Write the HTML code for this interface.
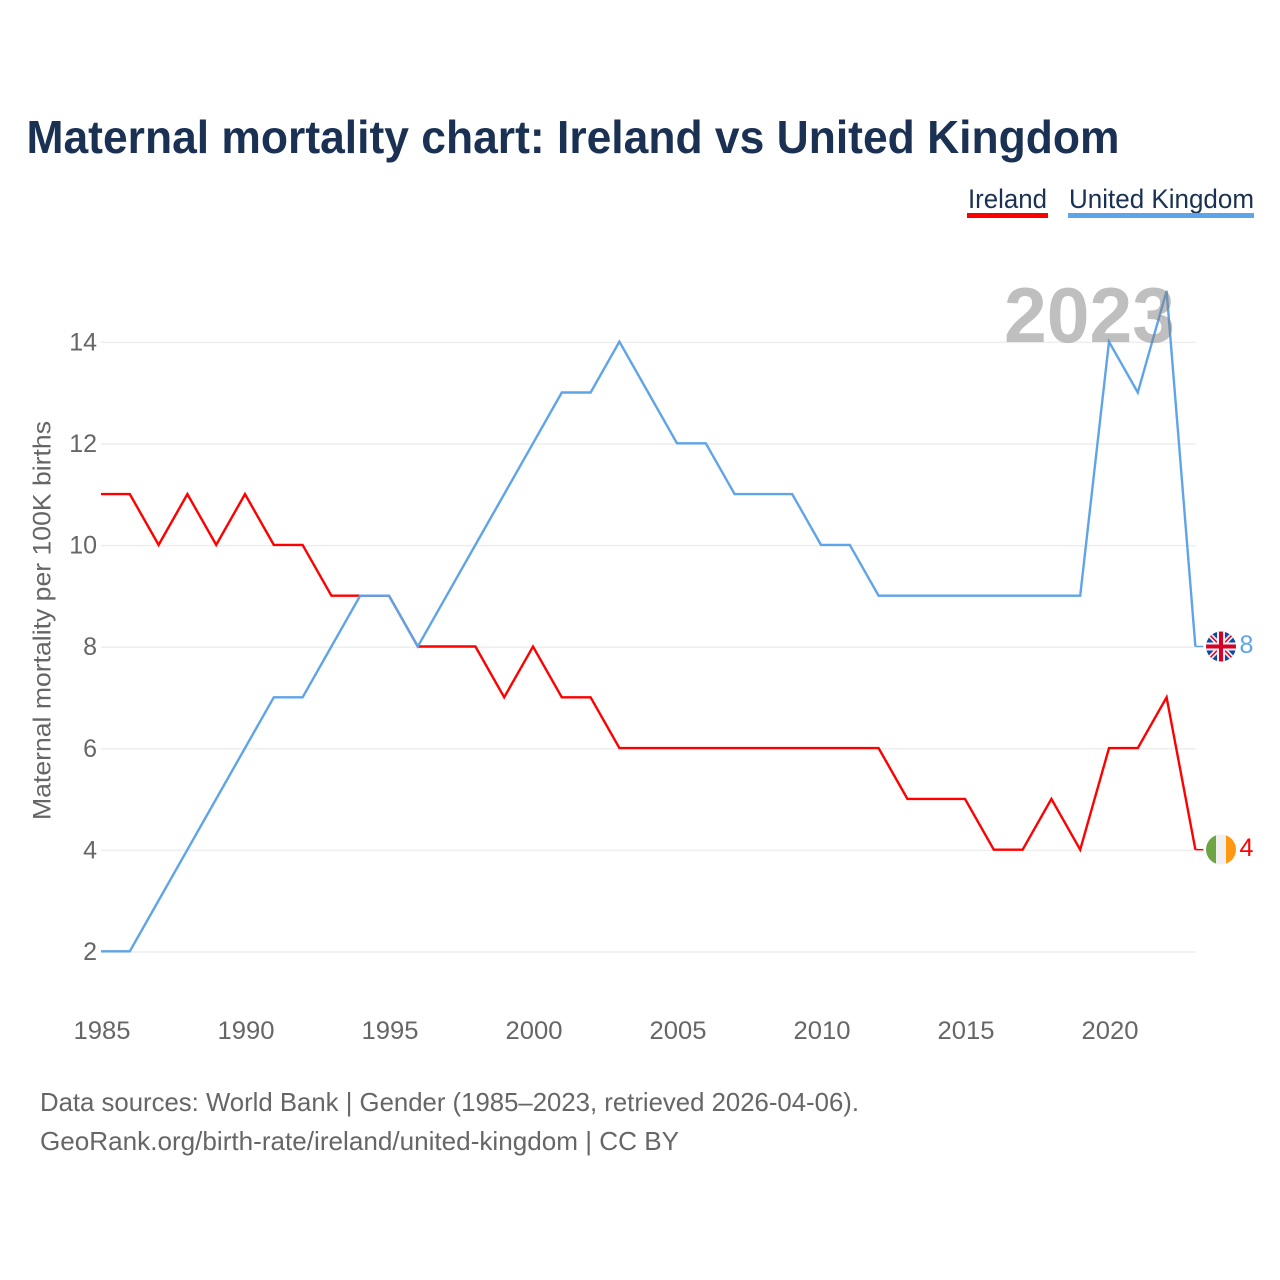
<!DOCTYPE html>
<html lang="en">
<head>
<meta charset="utf-8">
<title>Maternal mortality chart: Ireland vs United Kingdom</title>
<style>
html,body{margin:0;padding:0;background:#fff;width:1280px;height:1280px;overflow:hidden}
svg{display:block;font-family:"Liberation Sans",sans-serif}
</style>
</head>
<body>
<svg id="chart" xmlns="http://www.w3.org/2000/svg" width="1280" height="1280" viewBox="0 0 1280 1280">
  <defs>
    <clipPath id="uk-clip"><circle cx="1221" cy="646.5" r="15"/></clipPath>
    <clipPath id="ie-clip"><circle cx="1221" cy="849.5" r="15"/></clipPath>
  </defs>
  <rect width="1280" height="1280" fill="#ffffff"/>
  <text x="26.5" y="153" font-size="46" font-weight="700" fill="#1a3153" textLength="1093" lengthAdjust="spacingAndGlyphs">Maternal mortality chart: Ireland vs United Kingdom</text>

  <g>
    <g>
      <text x="968" y="208" font-size="27" fill="#1a3153" textLength="79" lengthAdjust="spacingAndGlyphs">Ireland</text>
      <rect x="967" y="213" width="81" height="5" fill="#ff0000"/>
    </g>
    <g>
      <text x="1069" y="208" font-size="27" fill="#1a3153" textLength="185" lengthAdjust="spacingAndGlyphs">United Kingdom</text>
      <rect x="1068" y="213" width="186" height="5" fill="#5fa4e8"/>
    </g>
  </g>

  <g id="grid"></g>
  <g id="y-ticks"></g>
  <g id="x-ticks"></g>
  <text transform="translate(50.5,620.5) rotate(-90)" text-anchor="middle" font-size="25" fill="#666666" textLength="399" lengthAdjust="spacingAndGlyphs">Maternal mortality per 100K births</text>

  <g id="series"></g>

  <text id="year-label" x="1004" y="342" font-size="78" font-weight="700" fill="#808080" fill-opacity="0.5" textLength="171" lengthAdjust="spacingAndGlyphs">2023</text>

  <g id="uk-flag">
    <g clip-path="url(#uk-clip)">
      <rect x="1206" y="631" width="30" height="31" fill="#0f47a8"/>
      <path d="M1206 631 L1236 662 M1236 631 L1206 662" stroke="#f0f0f0" stroke-width="5"/>
      <path d="M1206 631 L1221 646.5 M1236 662 L1221 646.5 M1236 631 L1221 646.5 M1206 662 L1221 646.5" stroke="#d80027" stroke-width="1.5"/>
      <path d="M1221 631 V662 M1206 646.5 H1236" stroke="#f0f0f0" stroke-width="8"/>
      <path d="M1221 631 V662 M1206 646.5 H1236" stroke="#d80027" stroke-width="4"/>
    </g>
  </g>
  <g id="ie-flag">
    <g clip-path="url(#ie-clip)">
      <rect x="1206" y="834" width="10" height="31" fill="#6da544"/>
      <rect x="1216" y="834" width="10" height="31" fill="#f0f0f0"/>
      <rect x="1226" y="834" width="10" height="31" fill="#ff9811"/>
    </g>
  </g>

  <g>
    <text x="40" y="1111" font-size="26" fill="#666666" textLength="819" lengthAdjust="spacingAndGlyphs">Data sources: World Bank | Gender (1985–2023, retrieved 2026-04-06).</text>
    <text x="40" y="1150" font-size="26" fill="#666666" textLength="639" lengthAdjust="spacingAndGlyphs">GeoRank.org/birth-rate/ireland/united-kingdom | CC BY</text>
  </g>
</svg>
<script>
const years = [1985,1986,1987,1988,1989,1990,1991,1992,1993,1994,1995,1996,1997,1998,1999,2000,2001,2002,2003,2004,2005,2006,2007,2008,2009,2010,2011,2012,2013,2014,2015,2016,2017,2018,2019,2020,2021,2022,2023];
const irelandValues = [11,11,10,11,10,11,10,10,9,9,9,8,8,8,7,8,7,7,6,6,6,6,6,6,6,6,6,6,5,5,5,4,4,5,4,6,6,7,4];
const ukValues = [2,2,3,4,5,6,7,7,8,9,9,8,9,10,11,12,13,13,14,13,12,12,11,11,11,10,10,9,9,9,9,9,9,9,9,14,13,15,8];
const yTickValues = [2,4,6,8,10,12,14];
const xTickValues = [1985,1990,1995,2000,2005,2010,2015,2020];

const NS = 'http://www.w3.org/2000/svg';
const xScale = function (year) { return 101 + (year - 1985) * (1094.4 / 38); };
const yScale = function (value) { return 951.3 - (value - 2) * (609.6 / 12); };

const grid = document.getElementById('grid');
const yTicks = document.getElementById('y-ticks');
const xTicks = document.getElementById('x-ticks');
const seriesGroup = document.getElementById('series');
const svg = document.getElementById('chart');

yTickValues.forEach(function (v) {
  const line = document.createElementNS(NS, 'line');
  
  
  line.setAttribute('x1', 101);
  line.setAttribute('x2', 1195.5);
  line.setAttribute('y1', yScale(v) + 0.7);
  line.setAttribute('y2', yScale(v) + 0.7);
  line.setAttribute('stroke', '#eeeeee');
  line.setAttribute('stroke-width', 1.5);
  grid.appendChild(line);

  const label = document.createElementNS(NS, 'text');
  
  
  label.setAttribute('x', 97);
  label.setAttribute('y', yScale(v) + 8.7);
  label.setAttribute('text-anchor', 'end');
  label.setAttribute('font-size', 25);
  label.setAttribute('fill', '#666666');
  label.textContent = v;
  yTicks.appendChild(label);
});

xTickValues.forEach(function (y) {
  const label = document.createElementNS(NS, 'text');
  
  
  label.setAttribute('x', xScale(y) + 1);
  label.setAttribute('y', 1039);
  label.setAttribute('text-anchor', 'middle');
  label.setAttribute('font-size', 25);
  label.setAttribute('fill', '#666666');
  label.setAttribute('textLength', 57);
  label.setAttribute('lengthAdjust', 'spacingAndGlyphs');
  label.textContent = y;
  xTicks.appendChild(label);
});

function seriesPoints(values) {
  return values.map(function (v, i) { return xScale(years[i]).toFixed(2) + ',' + yScale(v).toFixed(2); }).join(' ');
}

const irelandLine = document.createElementNS(NS, 'polyline');


irelandLine.setAttribute('points', seriesPoints(irelandValues));
irelandLine.setAttribute('fill', 'none');
irelandLine.setAttribute('stroke', '#ff0000');
irelandLine.setAttribute('stroke-width', 2.4);
seriesGroup.appendChild(irelandLine);

const ukLine = document.createElementNS(NS, 'polyline');


ukLine.setAttribute('points', seriesPoints(ukValues));
ukLine.setAttribute('fill', 'none');
ukLine.setAttribute('stroke', '#5fa4e8');
ukLine.setAttribute('stroke-width', 2.4);
seriesGroup.appendChild(ukLine);

const lastIe = irelandValues[irelandValues.length - 1];
const lastUk = ukValues[ukValues.length - 1];
const lastX = xScale(years[years.length - 1]);

const ieStub = document.createElementNS(NS, 'line');


ieStub.setAttribute('x1', lastX);
ieStub.setAttribute('x2', lastX + 8);
ieStub.setAttribute('y1', yScale(lastIe));
ieStub.setAttribute('y2', yScale(lastIe));
ieStub.setAttribute('stroke', '#ff0000');
ieStub.setAttribute('stroke-width', 1.5);
seriesGroup.appendChild(ieStub);

const ukStub = document.createElementNS(NS, 'line');


ukStub.setAttribute('x1', lastX);
ukStub.setAttribute('x2', lastX + 8);
ukStub.setAttribute('y1', yScale(lastUk));
ukStub.setAttribute('y2', yScale(lastUk));
ukStub.setAttribute('stroke', '#5fa4e8');
ukStub.setAttribute('stroke-width', 1.5);
seriesGroup.appendChild(ukStub);

const ieValueLabel = document.createElementNS(NS, 'text');


ieValueLabel.setAttribute('x', 1239.5);
ieValueLabel.setAttribute('y', yScale(lastIe) + 6.5);
ieValueLabel.setAttribute('font-size', 25);
ieValueLabel.setAttribute('fill', '#ff0000');
ieValueLabel.textContent = lastIe;
svg.appendChild(ieValueLabel);

const ukValueLabel = document.createElementNS(NS, 'text');


ukValueLabel.setAttribute('x', 1239.5);
ukValueLabel.setAttribute('y', yScale(lastUk) + 6.5);
ukValueLabel.setAttribute('font-size', 25);
ukValueLabel.setAttribute('fill', '#5fa4e8');
ukValueLabel.textContent = lastUk;
svg.appendChild(ukValueLabel);
</script>
</body>
</html>
